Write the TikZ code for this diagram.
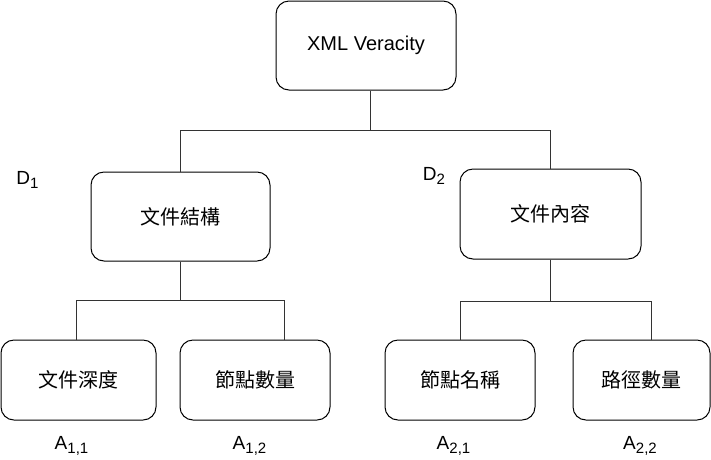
\documentclass[tikz,border=0pt]{standalone}
\usepackage{fontspec}
\setmainfont{Liberation Sans}
\newfontfamily\cjk{Noto Sans CJK TC}
\usepackage{tikz}
\usetikzlibrary{calc}
\newcommand\lowtag[1]{\raisebox{-0.45ex}{\fontsize{15}{15}\selectfont #1}}

\begin{document}
\begin{tikzpicture}[x=1pt,y=-1pt,
    font=\fontsize{20}{24}\selectfont,
    box/.style={draw,line width=1pt,rounded corners=13pt,minimum height=#1},
    box/.default=89pt,
    link/.style={draw=black!80,line width=1pt},
    tag/.style={font=\fontsize{19}{22}\selectfont,inner sep=0pt}]
  \useasboundingbox (0,0) rectangle (711,459);
  % top level
  \node[box,minimum width=180pt] (root) at (366,45.5) {XML Veracity};
  % dimensions
  \node[box,minimum width=179pt] (d1) at (180.5,216.5) {\cjk 文件結構};
  \node[box=90pt,minimum width=181pt] (d2) at (550.5,214) {\cjk 文件內容};
  \node[tag] (t1) at (27.5,180) {D\lowtag{1}};
  \node[tag] (t2) at (434,176) {D\lowtag{2}};
  % attributes
  \node[box=80pt,minimum width=155pt] (a11) at (78.5,380) {\cjk 文件深度};
  \node[box=80pt,minimum width=150pt] (a12) at (255,380) {\cjk 節點數量};
  \node[box=80pt,minimum width=150pt] (a21) at (460,380) {\cjk 節點名稱};
  \node[box=80pt,minimum width=137pt] (a22) at (641.5,380) {\cjk 路徑數量};
  \node[tag] (s11) at (71.5,446) {A\lowtag{1,1}};
  \node[tag] (s12) at (249.5,446) {A\lowtag{1,2}};
  \node[tag] (s21) at (453.5,446) {A\lowtag{2,1}};
  \node[tag] (s22) at (640,446) {A\lowtag{2,2}};
  % tree connectors
  \draw[link] ([xshift=4pt]root.south) -- ++(0,40) -| (d1.north);
  \draw[link] ([xshift=4pt]root.south) -- ++(0,40) -| (d2.north);
  \draw[link] (d1.south) -- ++(0,39) -| ([xshift=-2.5pt]a11.north);
  \draw[link] (d1.south) -- ++(0,39) -| ([xshift=29pt]a12.north);
  \draw[link] (d2.south) -- ++(0,42) -| (a21.north);
  \draw[link] (d2.south) -- ++(0,42) -| ([xshift=9.5pt]a22.north);
\end{tikzpicture}
\end{document}
